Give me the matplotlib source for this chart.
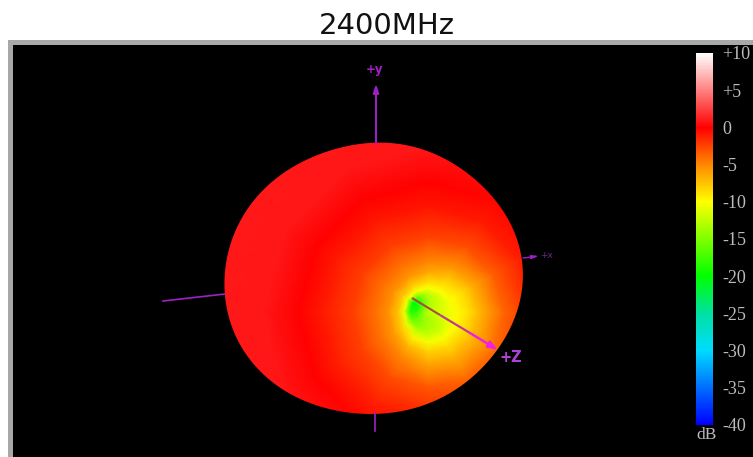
#plot.py
import numpy as np
import matplotlib.pyplot as plt
from matplotlib.colors import LinearSegmentedColormap
from matplotlib.patches import PathPatch, Rectangle
from matplotlib.path import Path

title = '2400MHz'

# colour scale of the pattern
scale_db = [-40, -30, -25, -20, -10, -5, 0, 5, 10]
scale_colors = ['#0000ff', '#00dcff', '#00e0a0', '#00ff00', '#ffff00',
                '#ff8800', '#ff0000', '#ff8080', '#ffffff']
tick_db = [10, 5, 0, -5, -10, -15, -20, -25, -30, -35, -40]
tick_labels = ['+10', '+5', '0', '-5', '-10', '-15', '-20', '-25', '-30', '-35', '-40']

# gain: rows are directions round the null, columns are rings
ring_px = [0, 6, 12, 18, 24, 30, 40, 50, 75, 105, 130, 165, 240]
direction_deg = [0, 30, 60, 90, 120, 150, 180, 210, 240, 270, 300, 330, 360]
gain_db = [
    [-12.5, -12.0, -11.5, -11.0, -10.4, -9.8, -8.8, -7.2, -3.8, -1.5, -1.0, -0.5, -0.5],
    [-12.5, -12.2, -11.8, -11.3, -10.4, -9.6, -8.4, -6.8, -3.5, -1.2, -0.6, 0.0, 0.0],
    [-12.5, -12.8, -12.4, -11.8, -10.2, -9.0, -7.4, -5.8, -2.9, -1.0, -0.2, 0.5, 0.5],
    [-12.5, -13.5, -13.5, -12.5, -10.2, -8.6, -6.4, -5.0, -2.5, -0.8, 0.0, 0.9, 0.9],
    [-12.5, -15.0, -16.5, -15.5, -10.2, -8.0, -5.6, -4.5, -2.4, -0.9, 0.0, 0.9, 1.0],
    [-12.5, -16.0, -19.5, -20.0, -10.5, -7.5, -5.4, -4.4, -2.4, -1.0, 0.0, 0.9, 1.0],
    [-12.5, -15.5, -18.5, -18.5, -10.8, -7.5, -5.4, -4.4, -2.4, -1.0, 0.0, 0.9, 1.0],
    [-12.5, -14.5, -16.0, -15.5, -11.0, -8.0, -5.8, -4.6, -2.5, -1.1, 0.0, 0.8, 1.0],
    [-12.5, -14.0, -14.5, -14.0, -11.8, -9.5, -6.8, -5.3, -2.8, -1.2, -0.3, 0.5, 0.5],
    [-12.5, -13.5, -13.5, -13.0, -12.0, -10.5, -8.0, -6.6, -3.2, -1.4, -0.8, -0.3, -0.3],
    [-12.5, -13.0, -13.0, -12.5, -11.5, -10.3, -8.4, -7.0, -4.0, -1.6, -1.0, -0.5, -0.5],
    [-12.5, -12.5, -12.0, -11.5, -10.8, -10.0, -8.6, -7.2, -4.2, -1.6, -1.0, -0.5, -0.5],
    [-12.5, -12.0, -11.5, -11.0, -10.4, -9.8, -8.8, -7.2, -3.8, -1.5, -1.0, -0.5, -0.5],
]

# silhouette of the lobe, clockwise from the top
rim_x = [380, 420, 440, 460, 480, 497, 510, 518, 522, 522, 517, 507, 497, 480, 460, 440, 420,
         372, 340, 320, 297, 273, 253, 240, 230, 226, 225, 228, 237, 248, 263, 280, 300, 320, 340]
rim_y = [143, 148, 157, 168, 183, 203, 223, 243, 260, 290, 313, 333, 350, 370, 387, 398, 407,
         413, 412, 407, 397, 382, 363, 345, 325, 295, 275, 253, 227, 207, 190, 177, 163, 153, 148]

null_x, null_y = 428, 312
lobe_x, lobe_y = 374, 278
AXIS_PURPLE = '#a020c8'
GREY_TEXT = '#bcbcbc'


def smooth_outline(xs, ys, harmonics=6):
    # closed curve through the read points, a few fourier terms are enough
    def basis(t):
        cols = [np.ones_like(t)]
        for k in range(1, harmonics + 1):
            cols += [np.cos(k * t), np.sin(k * t)]
        return np.column_stack(cols)
    dx = np.array(xs) - lobe_x
    dy = np.array(ys) - lobe_y
    coef = np.linalg.lstsq(basis(np.arctan2(-dy, dx)), np.hypot(dx, dy), rcond=None)[0]
    t = np.linspace(0, 2 * np.pi, 400)
    r = basis(t) @ coef
    return np.column_stack([lobe_x + r * np.cos(t), lobe_y - r * np.sin(t)])


fig = plt.figure(figsize=(7.53, 4.57), dpi=100, facecolor='white')
ax = fig.add_axes([0, 0, 1, 1])
ax.set_xlim(0, 753)
ax.set_ylim(457, 0)
ax.axis('off')

ax.text(387, 26, title, ha='center', va='center', fontsize=21, color='#111111')
ax.add_patch(Rectangle((8, 40), 750, 420, fc='#a8a8a8', ec='none', zorder=1))

cmap = LinearSegmentedColormap.from_list(
    'db', [((d + 40) / 50, c) for d, c in zip(scale_db, scale_colors)], N=512)

theta = np.radians(direction_deg)
rr, tt = np.meshgrid(ring_px, theta)
mesh = ax.pcolormesh(null_x + rr * np.cos(tt), null_y - rr * np.sin(tt), np.array(gain_db),
                     shading='gouraud', cmap=cmap, vmin=-40, vmax=10, zorder=2)

# black background with a lobe shaped hole, gives a cleaner edge than a clip path
box = [(13, 45), (758, 45), (758, 460), (13, 460), (13, 45)]
rim = smooth_outline(rim_x, rim_y)
verts = np.vstack([box, rim])
codes = [Path.MOVETO] + [Path.LINETO] * 4 + [Path.MOVETO] + [Path.LINETO] * (len(rim) - 1)
ax.add_patch(PathPatch(Path(verts, codes), fc='black', ec='none', zorder=3))

# axes that stick out behind the lobe
ax.plot([163, 225], [301, 294], color=AXIS_PURPLE, lw=1.2, zorder=4)
ax.plot([375, 375], [413, 431], color=AXIS_PURPLE, lw=1.2, zorder=4)
ax.annotate('', xy=(376, 84), xytext=(376, 144), zorder=4,
            arrowprops=dict(arrowstyle='-|>,head_width=0.17,head_length=0.5',
                            color=AXIS_PURPLE, lw=1.4, shrinkA=0, shrinkB=0))
ax.annotate('', xy=(539, 256), xytext=(523, 258), zorder=4,
            arrowprops=dict(arrowstyle='-|>,head_width=0.1,head_length=0.4',
                            color=AXIS_PURPLE, lw=1.0, shrinkA=0, shrinkB=0))

# +z comes out of the lobe, gets brighter towards the tip
ax.plot([412, 440], [298, 315], color='#a05040', lw=1.5, zorder=5, solid_capstyle='butt')
ax.plot([440, 470], [315, 333], color='#c03c90', lw=1.6, zorder=5, solid_capstyle='butt')
ax.annotate('', xy=(498, 350), xytext=(470, 333), zorder=5,
            arrowprops=dict(arrowstyle='-|>,head_width=0.2,head_length=0.55',
                            color='#f020e0', lw=1.8, shrinkA=0, shrinkB=0))

ax.text(375, 69, '+y', ha='center', va='center', fontsize=8.5, color=AXIS_PURPLE, fontweight='bold')
ax.text(547, 256, '+x', ha='center', va='center', fontsize=6.5, color='#6a2a80')
ax.text(511, 358, '+Z', ha='center', va='center', fontsize=10.5, color='#b040d8', fontweight='bold')

cax = fig.add_axes([696 / 753, 1 - 425 / 457, 17 / 753, 372 / 457])
cbar = fig.colorbar(mesh, cax=cax)
cbar.outline.set_visible(False)
cbar.set_ticks(tick_db, labels=tick_labels)
cax.tick_params(length=0, pad=6.5, colors=GREY_TEXT, labelsize=13)
for lab in cax.get_yticklabels():
    lab.set_family('Liberation Serif')

ax.text(706.5, 435, 'dB', ha='center', va='center', fontsize=12.5, color=GREY_TEXT,
        family='Liberation Serif', zorder=6)

fig.savefig('out.png', dpi=100)
